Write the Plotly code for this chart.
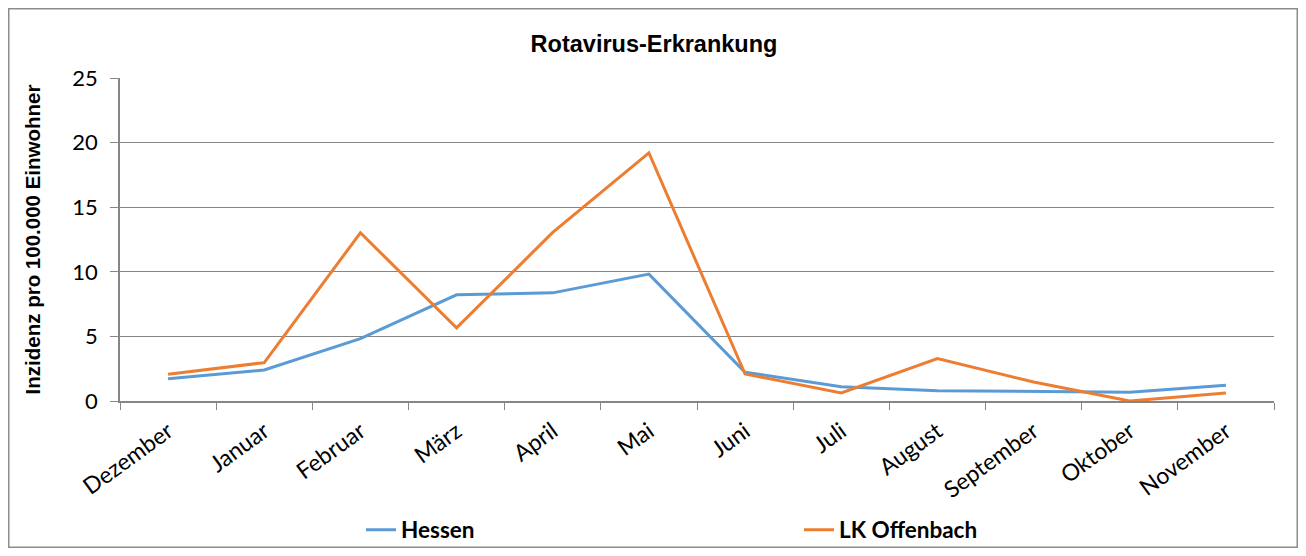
import plotly.graph_objects as go

months = ["Dezember", "Januar", "Februar", "März", "April", "Mai",
          "Juni", "Juli", "August", "September", "Oktober", "November"]
hessen = [1.73, 2.40, 4.83, 8.22, 8.37, 9.82, 2.22, 1.11, 0.80, 0.72, 0.67, 1.21]
offenbach = [2.07, 2.97, 13.02, 5.66, 13.05, 19.2, 2.09, 0.62, 3.28, 1.47, 0.0, 0.62]
y_ticks = [0, 5, 10, 15, 20, 25]

BLUE = "#5B9BD5"
ORANGE = "#ED7D31"
GRID = "#868686"

fig = go.Figure()
fig.add_trace(go.Scatter(x=months, y=hessen, mode="lines", name="Hessen",
                         line=dict(color=BLUE, width=3)))
fig.add_trace(go.Scatter(x=months, y=offenbach, mode="lines", name="LK Offenbach",
                         line=dict(color=ORANGE, width=3)))

# page has an 8px body margin; figure sized to fit inside the 1306x556 window
OFF = 8
W, H = 1290, 540
L, R, T, B = 112, 24, 70, 147
pw, ph = W - L - R, H - T - B

def px_x(p):  # reference page pixel -> paper
    return (p - OFF - L) / pw

def px_y(p):
    return (H - B - (p - OFF)) / ph

fig.update_layout(
    width=W, height=H,
    margin=dict(l=L, r=R, t=T, b=B, autoexpand=False),
    paper_bgcolor="white", plot_bgcolor="white",
    title=dict(text="<b>Rotavirus-Erkrankung</b>", x=(654 - OFF) / W, xref="container",
               y=1 - (44 - OFF) / H, yref="container", yanchor="middle", xanchor="center",
               font=dict(family="Liberation Sans, Arial", size=23.5, color="black")),
    showlegend=True,
    legend=dict(orientation="h", x=px_x(361), xanchor="left",
                y=px_y(530), yanchor="middle",
                entrywidth=393, entrywidthmode="pixels",
                font=dict(family="Lato", size=22.5, color="black", weight="bold"),
                bgcolor="rgba(0,0,0,0)"),
    xaxis=dict(type="category", tickson="boundaries", ticks="outside", ticklen=7,
               tickcolor=GRID, showline=True, linecolor=GRID, linewidth=2,
               showgrid=False, tickangle=-36, ticklabelstandoff=6, automargin=False,
               tickfont=dict(family="Lato", size=23, color="black"),
               range=[-0.5, 11.5], fixedrange=True),
    yaxis=dict(range=[0, 25], tickvals=y_ticks, ticks="outside", ticklen=8,
               tickcolor=GRID, showline=True, linecolor=GRID, linewidth=1.5,
               showgrid=True, gridcolor=GRID, gridwidth=1, zeroline=False,
               ticklabelstandoff=8, automargin=False,
               tickfont=dict(family="Lato", size=22, color="black"),
               title=dict(text="<b>Inzidenz pro 100.000 Einwohner</b>", standoff=26,
                          font=dict(family="Liberation Sans, Arial", size=20.5, color="black"))),
)

fig.add_shape(type="rect", xref="paper", yref="paper",
              x0=(0.75 - L) / pw, x1=(W - 0.75 - L) / pw,
              y0=(H - B - (H - 0.75)) / ph, y1=(H - B - 0.75) / ph,
              line=dict(color="#8C8C8C", width=1.5), fillcolor="rgba(0,0,0,0)", layer="below")

fig.write_html("out.html")
